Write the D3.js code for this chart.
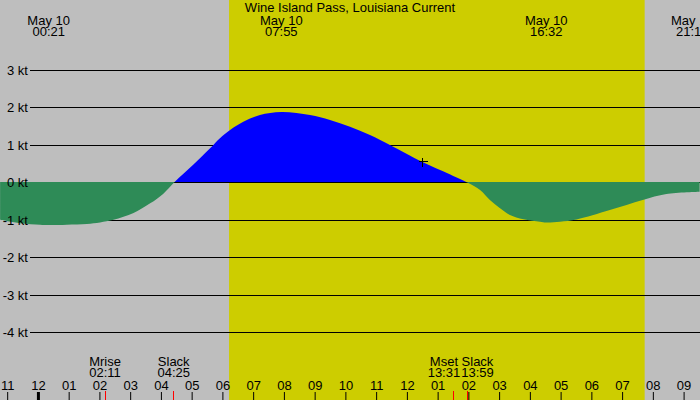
<!DOCTYPE html>
<html>
<head>
<meta charset="utf-8">
<script src="https://cdn.jsdelivr.net/npm/d3@7"></script>
<style>
body { margin: 0; background: #bebebe; }
svg { display: block; font-family: "Liberation Sans", Arial, sans-serif; font-size: 13px; }
</style>
</head>
<body>
<div id="chart"></div>
<script>
// Current speed (kt); hours counted from midnight May 10
var hours = [-1.23, -0.58, 0.07, 0.35, 0.94, 1.59, 2.02, 2.46, 3.11, 3.65, 4.08, 4.42,
             5.05, 5.60, 5.92, 6.25, 6.68, 7.22, 7.92, 8.85, 9.50, 10.15, 10.80, 11.45,
             12.49, 13.08, 13.98, 14.38, 14.70, 15.03, 15.35, 15.79, 16.33, 16.53, 16.98,
             17.52, 18.60, 19.67, 20.44, 21.52]
var knots = [-0.99, -1.08, -1.12, -1.13, -1.12, -1.10, -1.06, -0.99, -0.81, -0.55, -0.29, 0,
             0.48, 0.92, 1.19, 1.41, 1.63, 1.81, 1.89, 1.81, 1.68, 1.50, 1.28, 1.01,
             0.56, 0.34, 0, -0.19, -0.46, -0.68, -0.86, -0.975, -1.04, -1.06, -1.04,
             -0.98, -0.73, -0.46, -0.30, -0.24]

var title = "Wine Island Pass, Louisiana Current"
var peakDay = "May 10"
var peakTimes = ["00:21", "07:55", "16:32", "21:17"]
var eventNames = ["Mrise", "Slack", "Mset", "Slack"]
var eventTimes = ["02:11", "04:25", "13:31", "13:59"]
var sunrise = "06:13"
var sunset = "19:44"
var gridKnots = [3, 2, 1, 0, -1, -2, -3, -4]
var nowTime = "12:30"
var nowKnots = 0.58

var width = 700, height = 400
var parse = d3.timeParse("%Y-%m-%d %H:%M")
var midnight = parse("2024-05-10 00:00")
function at(t) { return parse("2024-05-10 " + t) }
function fromHours(h) { return new Date(midnight.getTime() + h * 3600e3) }

var data = hours.map(function(h, i) { return { t: fromHours(h), v: knots[i] } })

var x = d3.scaleTime()
    .domain([parse("2024-05-09 22:46"), parse("2024-05-10 21:32")])
    .range([0, width])

var y = d3.scaleLinear()
    .domain([-4, 3])
    .range([332.5, 70.5])

function crisp(v) { return Math.round(v - 0.5) + 0.5 }

var svg = d3.select("#chart")
  .append("svg")
    .attr("width", width)
    .attr("height", height)

// background and daylight
svg.append("rect")
    .attr("width", width)
    .attr("height", height)
    .attr("fill", "#bebebe")

svg.append("rect")
    .attr("x", x(at(sunrise)))
    .attr("width", x(at(sunset)) - x(at(sunrise)))
    .attr("height", height)
    .attr("fill", "#cdcd00")

// grid lines
var zeroRow = Math.floor(y(0))

svg.append("g")
  .selectAll("line")
  .data(gridKnots)
  .join("line")
    .attr("x1", 30)
    .attr("x2", width)
    .attr("y1", function(d) { return crisp(y(d)) })
    .attr("y2", function(d) { return crisp(y(d)) })
    .attr("stroke", "#000")
    .attr("shape-rendering", "crispEdges")

// flood above the zero line, ebb covers it from below
var defs = svg.append("defs")
defs.append("clipPath").attr("id", "above")
  .append("rect").attr("width", width).attr("height", zeroRow)
defs.append("clipPath").attr("id", "below")
  .append("rect").attr("y", zeroRow).attr("width", width).attr("height", height - zeroRow)

function area(base) {
  return d3.area()
    .x(function(d) { return x(d.t) })
    .y0(base)
    .y1(function(d) { return y(d.v) })
    .curve(d3.curveCatmullRom.alpha(0.5))
}

svg.append("path")
    .datum(data)
    .attr("clip-path", "url(#above)")
    .attr("fill", "#0000ff")
    .attr("d", area(zeroRow + 2))

svg.append("path")
    .datum(data)
    .attr("clip-path", "url(#below)")
    .attr("fill", "#2e8b57")
    .attr("d", area(zeroRow - 2))

// y labels
svg.append("g")
  .selectAll("text")
  .data(gridKnots)
  .join("text")
    .attr("x", 28)
    .attr("y", function(d) { return y(d) + 4.5 })
    .attr("text-anchor", "end")
    .text(function(d) { return d + " kt" })

// title and peak times
svg.append("text")
    .attr("x", width / 2)
    .attr("y", 12)
    .attr("text-anchor", "middle")
    .text(title)

var peaks = svg.append("g")
  .selectAll("g")
  .data(peakTimes)
  .join("g")
    .attr("transform", function(d) { return "translate(" + x(at(d)) + ",0)" })
    .attr("text-anchor", "middle")
peaks.append("text").attr("y", 25).text(peakDay)
peaks.append("text").attr("y", 36).text(function(d) { return d })

// hour axis along the bottom
var xAxis = d3.axisTop(x)
    .ticks(d3.timeHour.every(1))
    .tickFormat(d3.timeFormat("%I"))
    .tickSize(8)
    .tickPadding(2)

var axis = svg.append("g")
    .attr("transform", "translate(0," + height + ")")
    .call(xAxis)
axis.select(".domain").remove()
axis.attr("font-size", null).attr("font-family", null)
axis.selectAll(".tick text").attr("fill", "#000")
axis.selectAll(".tick line")
    .attr("stroke", "#000")
    .attr("stroke-width", function(d) { return d.getHours() === 0 ? 3 : 1 })

// moon / slack events
svg.append("g")
  .selectAll("line")
  .data(eventTimes)
  .join("line")
    .attr("x1", function(d) { return crisp(x(at(d))) })
    .attr("x2", function(d) { return crisp(x(at(d))) })
    .attr("y1", 391)
    .attr("y2", height)
    .attr("stroke", "#ff0000")

var events = svg.append("g")
  .selectAll("g")
  .data(eventTimes)
  .join("g")
    .attr("text-anchor", "middle")
events.append("text").attr("y", 366).text(function(d, i) { return eventNames[i] })
events.append("text").attr("y", 377).text(function(d) { return d })

// push overlapping event labels apart
var cx = eventTimes.map(function(d) { return x(at(d)) })
var wd = []
events.each(function() {
  var w = 0
  d3.select(this).selectAll("text").each(function() { w = Math.max(w, this.getComputedTextLength()) })
  wd.push(w)
})
for (var i = 1; i < cx.length; i++) {
  var need = (wd[i - 1] + wd[i]) / 2 + 1
  var gap = cx[i] - cx[i - 1]
  if (gap < need) {
    cx[i - 1] -= (need - gap) / 2
    cx[i] += (need - gap) / 2
  }
}
events.attr("transform", function(d, i) { return "translate(" + cx[i] + ",0)" })

// current time marker
var mx = crisp(x(at(nowTime))), my = crisp(y(nowKnots))
svg.append("path")
    .attr("d", "M" + (mx - 4) + "," + my + "H" + (mx + 5) + "M" + mx + "," + (my - 4) + "V" + (my + 5))
    .attr("stroke", "#000")
    .attr("shape-rendering", "crispEdges")
</script>
</body>
</html>
